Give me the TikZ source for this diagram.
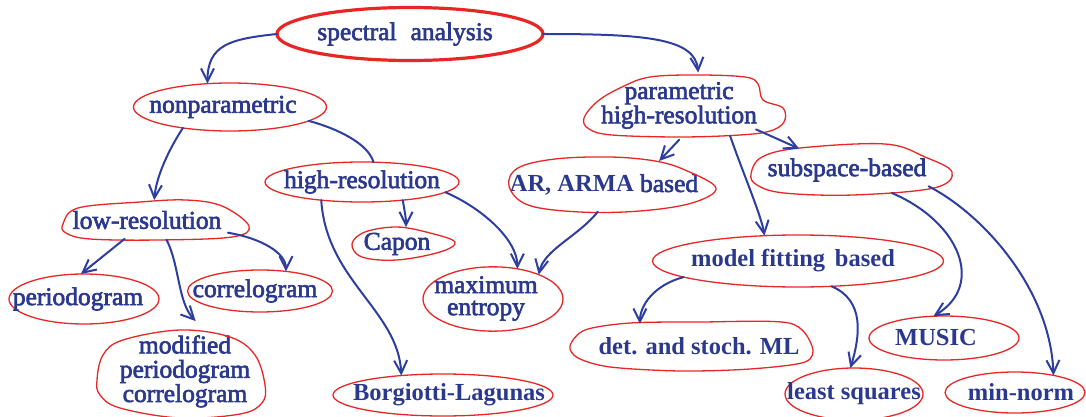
\documentclass[tikz,border=0pt]{standalone}
\usepackage{fontspec}
\setmainfont{Liberation Serif}
\newfontfamily\medf{Liberation Serif}[BoldFont={Liberation Serif}, BoldFeatures={FakeBold=2.5}]
\usetikzlibrary{arrows.meta,shapes.geometric}
\definecolor{tblue}{RGB}{42,56,142}
\definecolor{lblue}{RGB}{45,62,160}
\definecolor{ored}{RGB}{232,38,38}
\newcommand\lbl[2][0pt]{\hspace*{#1}\makebox[0pt][c]{#2}\hspace*{-#1}}
\newcommand\lines[1]{\begin{tabular}{@{}c@{}}#1\end{tabular}}
\begin{document}
\begin{tikzpicture}[x=1pt,y=-1pt,
  box/.style={ellipse, inner sep=0pt, outer sep=0pt, text=tblue},
  med/.style={font=\medf\bfseries\fontsize{25.5}{22}\selectfont},
  bld/.style={font=\rmfamily\bfseries\fontsize{24.5}{22}\selectfont},
  outl/.style={draw=ored, line width=1.3pt},
  conn/.style={draw=lblue, line width=2pt, line cap=round, -{Straight Barb[length=13pt,width=13pt]}},
  plain/.style={draw=lblue, line width=2pt, line cap=round}]
\useasboundingbox (0,0) rectangle (1086,417);

% nodes
\node[box, med, draw=ored, line width=3.2pt, minimum width=266pt, minimum height=53pt] (sa) at (410,34) {\lbl[-5pt]{spectral\hspace{0.55em}analysis}};
\node[box, med, outl, minimum width=193pt, minimum height=48pt] (np) at (230,107) {\lbl[-7pt]{nonparametric}};
\node[box, med, minimum width=200pt, minimum height=60pt] (par) at (684,106) {\lbl[-5pt]{\lines{parametric\\high-resolution}}};
\node[box, med, outl, minimum width=194pt, minimum height=40pt] (hr) at (362,182) {\lbl{high-resolution}};
\node[box, med, minimum width=207pt, minimum height=54pt] (ar) at (612,185) {\lbl[-8pt]{{\rmfamily\bfseries\fontsize{24.5}{22}\selectfont AR, ARMA} based}};
\node[box, med, minimum width=202pt, minimum height=50pt] (ss) at (852,170) {\lbl[-5pt]{subspace-based}};
\node[box, med, minimum width=186pt, minimum height=40pt] (lr) at (156,220) {\lbl[-9pt]{low-resolution}};
\node[box, med, minimum width=104pt, minimum height=34pt] (cap) at (403,244) {\lbl[-6pt]{Capon}};
\node[box, med, outl, minimum width=150pt, minimum height=50pt] (per) at (84,299) {\lbl[-6pt]{periodogram}};
\node[box, med, outl, minimum width=145pt, minimum height=42pt] (cor) at (260,291) {\lbl[-5pt]{correlogram}};
\node[box, med, outl, minimum width=140pt, minimum height=52pt] (me) at (493,299) {\lbl[-7pt]{\lines{maximum\\entropy}}};
\node[box, bld, outl, minimum width=291pt, minimum height=52pt] (mf) at (798,261) {\lbl[-5pt]{model fitting\hspace{0.4em}based}};
\node[box, med, minimum width=168pt, minimum height=86pt] (mod) at (181,372) {\lbl[4pt]{\lines{modified\\periodogram\\correlogram}}};
\node[box, bld, outl, minimum width=220pt, minimum height=42pt] (bl) at (443,395) {\lbl[6pt]{Borgiotti-Lagunas}};
\node[box, bld, minimum width=242pt, minimum height=49pt] (ml) at (690,346) {\lbl[9pt]{det. and stoch. ML}};
\node[box, bld, outl, minimum width=150pt, minimum height=44pt] (mu) at (944,338) {\lbl[-8pt]{MUSIC}};
\node[box, bld, outl, minimum width=138pt, minimum height=52pt] (ls) at (854,394) {\lbl{least squares}};
\node[box, bld, outl, minimum width=140pt, minimum height=41pt] (mn) at (1015,392.5) {\lbl[6pt]{min-norm}};

% hand-drawn outlines
\draw[outl] plot[smooth cycle, tension=0.6] coordinates {(584,118) (598,101) (622,87) (650,77) (697,75) (745,77) (758,84) (763,100) (783,108) (784,122) (770,131) (740,135) (680,137) (612,135) (589,129)};
\draw[outl] plot[smooth cycle, tension=0.6] coordinates {(509,186) (518,168) (555,159) (610,157) (655,161) (685,170) (716,188) (692,203) (640,211) (580,212) (528,205)};
\draw[outl] plot[smooth cycle, tension=0.6] coordinates {(751,174) (762,157) (800,148) (885,144) (925,157) (952,172) (934,188) (853,195) (784,193) (757,185)};
\draw[outl] plot[smooth cycle, tension=0.6] coordinates {(63,224) (78,208) (140,202) (186,200) (222,206) (249,226) (232,237) (158,240) (90,239) (66,233)};
\draw[outl] plot[smooth cycle, tension=0.6] coordinates {(352,244) (365,232) (397,227) (430,233) (455,242) (440,252) (397,260) (362,257)};
\draw[outl] plot[smooth cycle, tension=0.5] coordinates {(570,346) (585,330) (630,323) (700,322) (789,323) (812,346) (805,362) (750,369) (680,371) (610,367) (578,358)};
\draw[outl] plot[smooth cycle, tension=0.6] coordinates {(97,380) (103,355) (123,340) (180,330) (230,337) (255,355) (265,385) (262,403) (240,414) (180,418) (120,408) (100,395)};

% connectors
\draw[conn] (sa.180) .. controls +(-47,5) and +(0,-39) .. (np.134);
\draw[conn] (sa.0) .. controls +(100,0) and +(-3,-35) .. (par.67);
\draw[conn] (np.204) .. controls +(-12,18) and +(2,-25) .. (lr.95);
\draw[plain] (np.-10) .. controls +(30,8) and +(-5,-18) .. (hr.60);
\draw[conn] (hr.-24) .. controls +(2,12) and +(0,-10) .. (cap.80);
\draw[conn] (hr.204) .. controls +(5,80) and +(-3,-65) .. (bl.155);
\draw[conn] (hr.-7) .. controls +(35,15) and +(0,-30) .. (me.51);
\draw[conn] (ar.242) .. controls +(-20,25) and +(5,-25) .. (me.28);
\draw[conn] (par.262) -- (ar.27);
\draw[conn] (par.-33) .. controls +(12,35) and +(-3,-20) .. (mf.143);
\draw[conn] (par.-18) -- (ss.158);
\draw[conn] (ss.-30) .. controls +(68,29) and +(52,-31) .. (mu.116);
\draw[conn] (ss.-12) .. controls +(56,29) and +(-3,-85) .. (mn.24);
\draw[conn] (mf.188) .. controls +(-30,8) and +(0,-18) .. (ml.156);
\draw[conn] (mf.-37) .. controls +(33,14) and +(10,-33) .. (ls.98);
\draw[conn] (lr.211) -- (per.97);
\draw[conn] (lr.-62) .. controls +(13,25) and +(-18,-19) .. (mod.74);
\draw[conn] (lr.-10) .. controls +(35,6) and +(0,-18) .. (cor.37);
\end{tikzpicture}
\end{document}
